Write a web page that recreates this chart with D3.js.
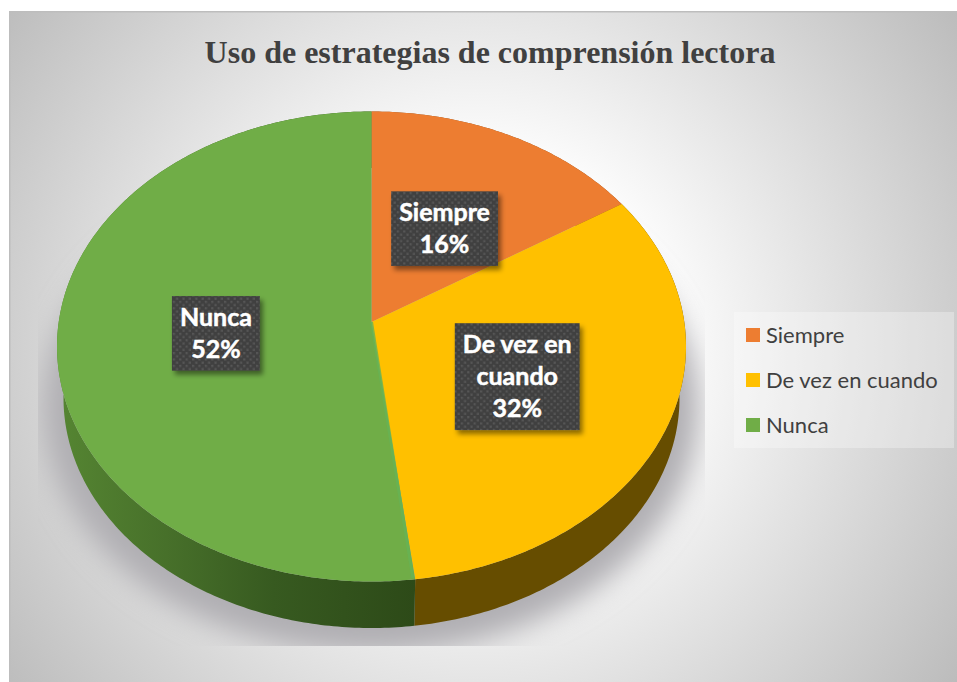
<!DOCTYPE html>
<html><head><meta charset="utf-8">
<script src="https://cdn.jsdelivr.net/npm/d3@7"></script>
<style>html,body{margin:0;padding:0;background:#fff;overflow:hidden}svg{display:block}</style>
</head><body><svg id="c" width="957" height="682"></svg>
<script>
const chartTitle = "Uso de estrategias de comprensión lectora";
const categories = ["Siempre", "De vez en cuando", "Nunca"];
const values = [16, 32, 52];
const labelLines = [["Siempre"], ["De vez en", "cuando"], ["Nunca"]];
const sliceColors = ["#ED7D31", "#FFC000", "#70AD47"];

const svg = d3.select("#c");
const defs = svg.append("defs");
const W = 957, H = 682;

// panel background
const bgGrad = defs.append("radialGradient").attr("id","bg").attr("gradientUnits","userSpaceOnUse")
  .attr("cx",478).attr("cy",346).attr("r",590);
bgGrad.selectAll("stop").data([[0,"#fff"],[.3,"#fff"],[1,"#bbbbbb"]]).join("stop")
  .attr("offset",d=>d[0]).attr("stop-color",d=>d[1]);
svg.append("rect").attr("x",9).attr("y",11).attr("width",W-9).attr("height",H-11).attr("fill","url(#bg)");
svg.append("path").attr("d",`M9.75 ${H}V11.75H${W}`).attr("fill","none").attr("stroke","#bdbdbd").attr("stroke-width",1.5);

// perspective disc geometry
const topFace = {cx:371.5, cy:346.5, rx:314.5, ry:235};
const lowFace = {cx:371.5, cy:398, rx:308, ry:230};
const persp = -0.104;
function project(g, angle, r){
  const u = r*Math.sin(angle), v = -r*Math.cos(angle);
  const den = 1 + persp*v;
  return [g.cx + u*g.rx*Math.sqrt(1-persp*persp)/den,
          g.cy + (v*g.ry + persp*g.ry)/den];
}
const pie = d3.pie().sort(null).value(d=>d);
const arcs = pie(values);
const color = d3.scaleOrdinal().domain(categories).range(sliceColors);
const pathLine = d3.line();
function edge(g,a0,a1){
  const n = Math.max(8,Math.ceil((a1-a0)*80));
  return d3.range(n+1).map(i=>project(g,a0+(a1-a0)*i/n,1));
}

// soft shadow, cut off by its rectangle as in the source
const blurF = defs.append("filter").attr("id","blur").attr("x","-20%").attr("y","-20%").attr("width","140%").attr("height","140%");
blurF.append("feGaussianBlur").attr("stdDeviation",14);
defs.append("clipPath").attr("id","shClip").append("rect").attr("x",38).attr("y",100).attr("width",667).attr("height",546);
svg.append("g").attr("clip-path","url(#shClip)").append("ellipse")
  .attr("cx",371).attr("cy",408).attr("rx",328).attr("ry",246)
  .attr("fill","#b0afb3").attr("filter","url(#blur)");

// side wall
const wallG = defs.append("linearGradient").attr("id","wallG").attr("gradientUnits","userSpaceOnUse")
  .attr("x1",60).attr("x2",415).attr("y1",0).attr("y2",0);
wallG.selectAll("stop").data([[0,"#558532"],[.3,"#47702a"],[.6,"#375a20"],[1,"#2d4a18"]]).join("stop")
  .attr("offset",d=>d[0]).attr("stop-color",d=>d[1]);
const wallFill = ["#8a5020","#664d00","url(#wallG)"];
svg.append("g").selectAll("path").data(arcs).join("path")
  .attr("fill",(d,i)=>wallFill[i])
  .attr("d",d=>pathLine(edge(topFace,d.startAngle,d.endAngle).concat(edge(lowFace,d.startAngle,d.endAngle).reverse()))+"Z");

// top face
svg.append("g").selectAll("path").data(arcs).join("path")
  .attr("fill",(d,i)=>color(categories[i]))
  .attr("d",d=>pathLine([project(topFace,0,0)].concat(edge(topFace,d.startAngle,d.endAngle)))+"Z");
// faint lighter bevel along the green slice's straight edges
const green = arcs[2];
svg.append("path").attr("fill","none").attr("stroke","#66b355").attr("stroke-width",3).attr("opacity",.8)
  .attr("d",pathLine([project(topFace,green.startAngle+.006,.995),project(topFace,0,0)]));

// data labels
const dots = defs.append("pattern").attr("id","dots").attr("patternUnits","userSpaceOnUse").attr("width",6.4).attr("height",6.4);
dots.append("rect").attr("width",6.4).attr("height",6.4).attr("fill","#404040");
dots.selectAll("rect.d").data([[0,0],[3.2,3.2]]).join("rect").attr("class","d")
  .attr("x",d=>d[0]).attr("y",d=>d[1]).attr("width",2.2).attr("height",2.2).attr("fill","#565656");
defs.append("filter").attr("id","ds").attr("x","-20%").attr("y","-20%").attr("width","150%").attr("height","150%")
  .append("feDropShadow").attr("dx",3).attr("dy",4).attr("stdDeviation",2.5).attr("flood-color","#000").attr("flood-opacity",.45);

const LH = 32.3;
arcs.forEach((d,i)=>{
  const lines = labelLines[i].concat([d.value+"%"]);
  const p = project(topFace,(d.startAngle+d.endAngle)/2,.5);
  const cx = p[0]+1, cy = p[1]+4;
  const g = svg.append("g");
  const box = g.append("rect");
  const t = g.append("g").selectAll("text").data(lines).join("text")
    .attr("x",cx).attr("y",(l,k)=>cy+(k-(lines.length-1)/2)*LH+8.5)
    .attr("text-anchor","middle").attr("fill","#fff").attr("stroke","#fff").attr("stroke-width",.5)
    .attr("font-family","Lato, 'Open Sans', sans-serif").attr("font-weight",700).attr("font-size",25)
    .text(l=>l);
  const w = d3.max(t.nodes(),n=>n.getComputedTextLength())+16;
  const h = lines.length*LH+10;
  box.attr("x",cx-w/2).attr("y",cy-h/2).attr("width",w).attr("height",h)
    .attr("fill","url(#dots)").attr("filter","url(#ds)");
});

// legend
svg.append("rect").attr("x",734).attr("y",312).attr("width",220).attr("height",136).attr("fill","#fff").attr("opacity",.3);
const ly = d3.scalePoint().domain(categories).range([335,425]);
const lg = svg.append("g").selectAll("g").data(categories).join("g").attr("transform",d=>`translate(746,${ly(d)})`);
lg.append("rect").attr("y",-7).attr("width",14).attr("height",14).attr("fill",d=>color(d));
lg.append("text").attr("x",20).attr("y",8).attr("fill","#404040")
  .attr("font-family","Lato, 'Open Sans', sans-serif").attr("font-size",22).text(d=>d);

// title
svg.append("text").attr("x",490).attr("y",63).attr("text-anchor","middle").attr("fill","#404040")
  .attr("font-family","'Liberation Serif', serif").attr("font-weight",700).attr("font-size",32).text(chartTitle);
</script></body></html>
